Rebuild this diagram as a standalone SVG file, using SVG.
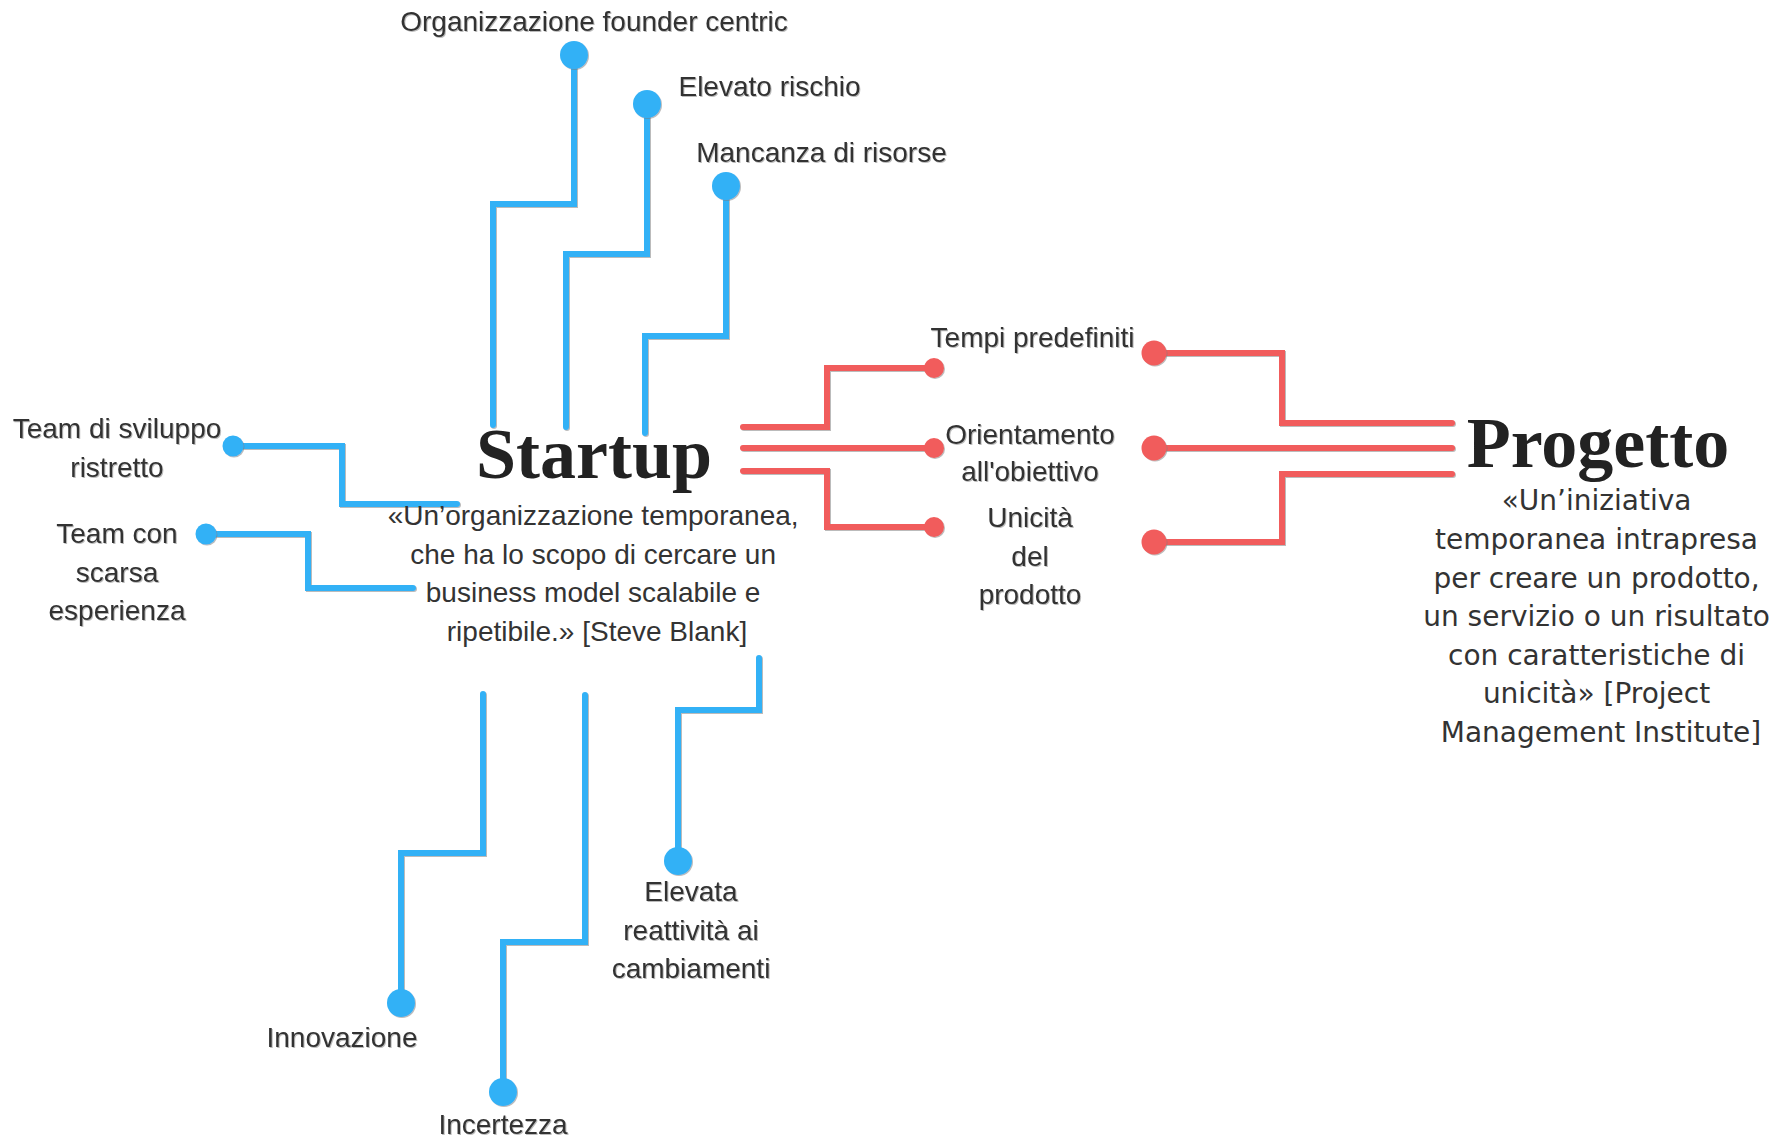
<svg xmlns="http://www.w3.org/2000/svg" width="1789" height="1137" viewBox="0 0 1789 1137">
  <defs>
    <style>
      .lbl{font-family:"Liberation Sans",Arial,sans-serif;font-size:28px;fill:#333;text-anchor:middle}
      .ttl{font-family:"Liberation Serif","Times New Roman",serif;font-weight:bold;font-size:72px;fill:#222;text-anchor:middle}
      .pmi{font-family:"DejaVu Sans",Verdana,sans-serif;font-size:28px;fill:#333;text-anchor:middle}
      .wb{fill:none;stroke:#33b1f6;stroke-width:6;stroke-linecap:round;stroke-linejoin:miter}
      .wr{fill:none;stroke:#f15b5b;stroke-width:6;stroke-linecap:round;stroke-linejoin:miter}
      .db{fill:#33b1f6}
      .dr{fill:#f15b5b}
    </style>
    <filter id="sh" x="-10%" y="-10%" width="120%" height="120%">
      <feDropShadow dx="1" dy="1" stdDeviation="0.7" flood-color="#777" flood-opacity="0.5"/>
    </filter>
  </defs>
  <rect width="1789" height="1137" fill="#fff"/>

  <!-- connectors -->
  <g id="connectors" filter="url(#sh)">
    <g class="wb">
      <path d="M574,55 V204 H493 V425"/>
      <path d="M647,104 V254 H566 V427"/>
      <path d="M726,186 V336 H645 V433"/>
      <path d="M233,446 H342 V504 H457"/>
      <path d="M206,534 H308 V588 H413"/>
      <path d="M483,694 V853 H401 V1003"/>
      <path d="M585,695 V942 H503 V1092"/>
      <path d="M759,658 V710 H678 V861"/>
    </g>
    <g class="wr">
      <path d="M743,427 H827 V368 H934"/>
      <path d="M743,448 H934"/>
      <path d="M743,471 H827 V527 H934"/>
      <path d="M1154,353 H1282 V423 H1452"/>
      <path d="M1154,448 H1452"/>
      <path d="M1154,542 H1282 V474 H1452"/>
    </g>
  </g>

  <!-- central nodes -->
  <g id="startup">
    <text class="ttl" x="594" y="478">Startup</text>
    <text class="lbl">
      <tspan x="597" y="525">«Un’organizzazione temporanea,</tspan>
      <tspan x="597" y="563.5">che ha lo scopo di cercare un</tspan>
      <tspan x="597" y="602">business model scalabile e</tspan>
      <tspan x="597" y="640.5">ripetibile.» [Steve Blank]</tspan>
    </text>
  </g>
  <g id="progetto">
    <text class="ttl" x="1598" y="467">Progetto</text>
    <text class="pmi">
      <tspan x="1601" y="510">«Un’iniziativa</tspan>
      <tspan x="1601" y="549">temporanea intrapresa</tspan>
      <tspan x="1601" y="588">per creare un prodotto,</tspan>
      <tspan x="1601" y="626">un servizio o un risultato</tspan>
      <tspan x="1601" y="665">con caratteristiche di</tspan>
      <tspan x="1601" y="703">unicità» [Project</tspan>
      <tspan x="1601" y="742">Management Institute]</tspan>
    </text>
  </g>

  <!-- startup traits -->
  <g id="founder-centric" filter="url(#sh)">
    <circle class="db" cx="574" cy="55" r="14"/>
    <text class="lbl" x="594" y="31">Organizzazione founder centric</text>
  </g>
  <g id="elevato-rischio" filter="url(#sh)">
    <circle class="db" cx="647" cy="104" r="14"/>
    <text class="lbl" x="769.5" y="96">Elevato rischio</text>
  </g>
  <g id="mancanza-risorse" filter="url(#sh)">
    <circle class="db" cx="726" cy="186" r="14"/>
    <text class="lbl" x="821.5" y="162">Mancanza di risorse</text>
  </g>
  <g id="team-ristretto" filter="url(#sh)">
    <circle class="db" cx="233" cy="446" r="10.5"/>
    <text class="lbl"><tspan x="117" y="438">Team di sviluppo</tspan><tspan x="117" y="477">ristretto</tspan></text>
  </g>
  <g id="team-esperienza" filter="url(#sh)">
    <circle class="db" cx="206" cy="534" r="10.5"/>
    <text class="lbl"><tspan x="117" y="543">Team con</tspan><tspan x="117" y="582">scarsa</tspan><tspan x="117" y="620">esperienza</tspan></text>
  </g>
  <g id="innovazione" filter="url(#sh)">
    <circle class="db" cx="401" cy="1003" r="14"/>
    <text class="lbl" x="342" y="1047">Innovazione</text>
  </g>
  <g id="incertezza" filter="url(#sh)">
    <circle class="db" cx="503" cy="1092" r="14"/>
    <text class="lbl" x="503" y="1134">Incertezza</text>
  </g>
  <g id="reattivita" filter="url(#sh)">
    <circle class="db" cx="678" cy="861" r="14"/>
    <text class="lbl"><tspan x="691" y="901">Elevata</tspan><tspan x="691" y="940">reattività ai</tspan><tspan x="691" y="978">cambiamenti</tspan></text>
  </g>

  <!-- shared traits -->
  <g id="tempi-predefiniti" filter="url(#sh)">
    <circle class="dr" cx="934" cy="368" r="10"/>
    <circle class="dr" cx="1154" cy="353" r="12.5"/>
    <text class="lbl" x="1032.5" y="347">Tempi predefiniti</text>
  </g>
  <g id="orientamento-obiettivo" filter="url(#sh)">
    <circle class="dr" cx="934" cy="448" r="10"/>
    <circle class="dr" cx="1154" cy="448" r="12.5"/>
    <text class="lbl"><tspan x="1030" y="444">Orientamento</tspan><tspan x="1030" y="481">all'obiettivo</tspan></text>
  </g>
  <g id="unicita-prodotto" filter="url(#sh)">
    <circle class="dr" cx="934" cy="527" r="10"/>
    <circle class="dr" cx="1154" cy="542" r="12.5"/>
    <text class="lbl"><tspan x="1030" y="527">Unicità</tspan><tspan x="1030" y="565.5">del</tspan><tspan x="1030" y="604">prodotto</tspan></text>
  </g>
</svg>
